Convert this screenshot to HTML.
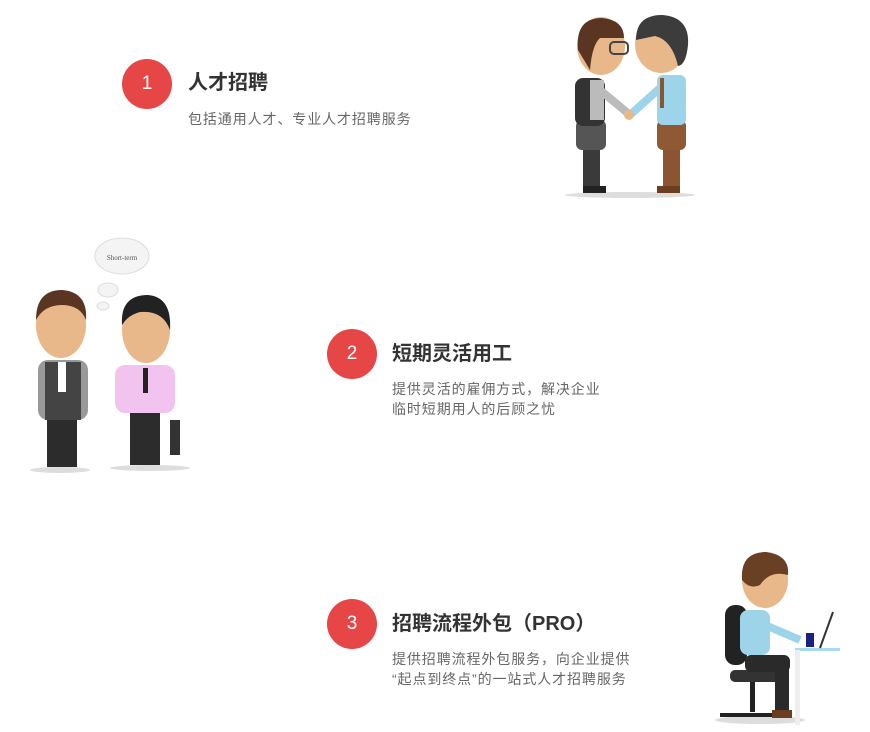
<!DOCTYPE html>
<html><head><meta charset="utf-8"><style>
body{margin:0;width:870px;height:732px;background:#fff;position:relative;overflow:hidden;font-family:"Liberation Sans","Noto Sans CJK SC",sans-serif}
.c{position:absolute;width:50px;height:50px;border-radius:50%;background:#e64646;color:#fff;font-size:19px;text-align:center;line-height:50px}
.t{position:absolute;font-size:20px;font-weight:bold;color:#333;white-space:nowrap}
.s{position:absolute;font-size:14px;color:#666;line-height:20px;white-space:nowrap;letter-spacing:0.9px}
svg{position:absolute;left:0;top:0}
</style></head><body>
<div class="c" style="left:122px;top:59px">1</div>
<div class="t" style="left:188px;top:66px">人才招聘</div>
<div class="s" style="left:188px;top:109px">包括通用人才、专业人才招聘服务</div>
<div class="c" style="left:327px;top:329px">2</div>
<div class="t" style="left:392px;top:337px">短期灵活用工</div>
<div class="s" style="left:392px;top:379px">提供灵活的雇佣方式，解决企业<br>临时短期用人的后顾之忧</div>
<div class="c" style="left:327px;top:599px">3</div>
<div class="t" style="left:392px;top:607px">招聘流程外包（PRO）</div>
<div class="s" style="left:392px;top:649px">提供招聘流程外包服务，向企业提供<br>“起点到终点”的一站式人才招聘服务</div>
<svg width="870" height="732">
<ellipse cx="630" cy="195" rx="65" ry="3" fill="#ddd"/>
<rect x="583" y="145" width="17" height="45" fill="#3a3a3a"/><rect x="583" y="186" width="23" height="7" fill="#222"/>
<rect x="576" y="120" width="30" height="30" rx="6" fill="#555"/>
<rect x="575" y="78" width="30" height="48" rx="8" fill="#333"/>
<rect x="590" y="80" width="14" height="40" fill="#bbb"/>
<path d="M600 90 L630 115" stroke="#bbb" stroke-width="8"/>
<ellipse cx="601" cy="46" rx="24" ry="29" fill="#e8b88a"/>
<path d="M578 50 Q575 18 602 18 Q624 20 624 38 L600 38 Q592 45 590 70 Z" fill="#5a3522"/>
<rect x="610" y="42" width="18" height="12" rx="4" fill="none" stroke="#444" stroke-width="2"/>
<rect x="663" y="145" width="17" height="45" fill="#8a5530"/><rect x="657" y="186" width="23" height="7" fill="#6a3f20"/>
<rect x="657" y="120" width="29" height="30" rx="6" fill="#8f5a33"/>
<rect x="657" y="75" width="29" height="50" rx="6" fill="#9dd4ea"/>
<path d="M660 88 L630 115" stroke="#9dd4ea" stroke-width="8"/>
<circle cx="629" cy="115" r="5" fill="#e8b88a"/>
<rect x="660" y="78" width="4" height="30" fill="#8a5530"/>
<ellipse cx="661" cy="44" rx="26" ry="29" fill="#e8b88a"/>
<path d="M636 40 Q636 15 662 15 Q690 17 688 45 Q686 65 678 66 Q672 40 655 36 Z" fill="#3c3c3c"/>
<ellipse cx="122" cy="256" rx="27" ry="18" fill="#f4f4f4" stroke="#ddd"/>
<text x="122" y="260" font-size="7" fill="#555" text-anchor="middle" font-family="Liberation Serif,serif">Short-term</text>
<ellipse cx="108" cy="290" rx="10" ry="7" fill="#f4f4f4" stroke="#ddd"/>
<ellipse cx="103" cy="306" rx="6" ry="4" fill="#f4f4f4" stroke="#ddd"/>
<ellipse cx="60" cy="470" rx="30" ry="3" fill="#ddd"/><ellipse cx="150" cy="468" rx="40" ry="3" fill="#ddd"/>
<rect x="47" y="415" width="30" height="52" fill="#2c2c2c"/>
<rect x="38" y="360" width="50" height="60" rx="10" fill="#999"/>
<rect x="45" y="362" width="36" height="58" fill="#444"/>
<rect x="58" y="362" width="8" height="30" fill="#fff"/>
<ellipse cx="61" cy="325" rx="25" ry="33" fill="#e8b88a"/>
<path d="M36 320 Q36 290 62 290 Q88 292 86 320 Q80 305 62 305 Q44 305 36 320Z" fill="#5a3522"/>
<rect x="130" y="410" width="30" height="55" fill="#2c2c2c"/>
<rect x="115" y="365" width="60" height="48" rx="10" fill="#f3c3f0"/>
<rect x="143" y="368" width="5" height="25" fill="#222"/>
<rect x="170" y="420" width="10" height="35" fill="#333"/>
<ellipse cx="146" cy="330" rx="24" ry="33" fill="#e8b88a"/>
<path d="M122 325 Q120 295 148 295 Q172 297 170 330 Q163 310 140 312 Q128 315 122 325Z" fill="#222"/>
<ellipse cx="760" cy="720" rx="45" ry="4" fill="#ddd"/>
<rect x="725" y="605" width="22" height="60" rx="10" fill="#222"/>
<rect x="730" y="670" width="50" height="12" rx="5" fill="#333"/>
<rect x="750" y="682" width="5" height="30" fill="#222"/>
<path d="M720 715 L785 715" stroke="#222" stroke-width="4"/>
<rect x="740" y="610" width="30" height="45" rx="8" fill="#9dd4ea"/>
<path d="M765 625 L800 640" stroke="#9dd4ea" stroke-width="8"/>
<rect x="745" y="655" width="45" height="17" rx="6" fill="#2a2a2a"/>
<rect x="775" y="665" width="14" height="50" fill="#2a2a2a"/><rect x="772" y="710" width="20" height="8" fill="#6a3f20"/>
<ellipse cx="765" cy="580" rx="23" ry="28" fill="#e8b88a"/>
<path d="M742 580 Q740 552 766 552 Q790 555 788 575 Q770 570 760 585 Q750 590 742 580Z" fill="#6a4025"/>
<rect x="795" y="648" width="45" height="3" fill="#a8dbee"/><rect x="795" y="650" width="5" height="75" fill="#eee"/>
<rect x="806" y="633" width="8" height="14" fill="#1a237e"/>
<path d="M820 648 L833 612" stroke="#333" stroke-width="2"/>
</svg>
</body></html>
